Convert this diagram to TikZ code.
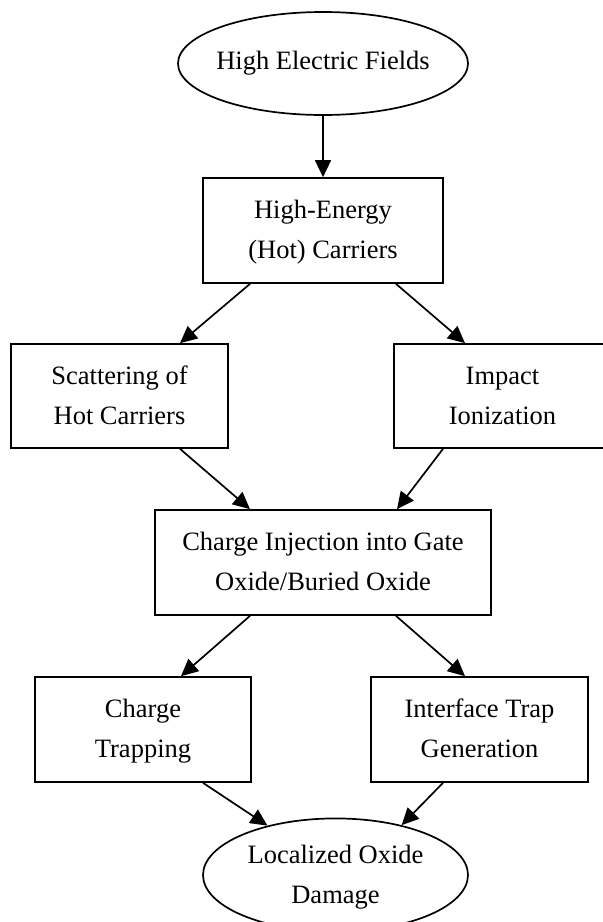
\documentclass[tikz,border=0pt]{standalone}
\usepackage{fontspec}
\setmainfont{Liberation Serif}
\usetikzlibrary{arrows.meta,shapes.geometric}
\begin{document}
\begin{tikzpicture}[x=1pt,y=-1pt,
 txt/.style={font=\fontsize{26.5}{40}\selectfont, align=center, inner sep=0pt},
 boxnode/.style={txt, draw, line width=1.7pt, minimum width=217pt, minimum height=104pt},
 ell/.style={txt, draw, ellipse, line width=1.7pt},
 arr/.style={-{Triangle[length=17pt,width=16pt]}, line width=1.7pt}]
\clip (0,0) rectangle (603,922);
\fill[white] (0,0) rectangle (603,922);
\node[ell, inner xsep=-20pt, minimum width=290pt, minimum height=103pt] (e1) at (323,63.5) {High Electric Fields};
\node[boxnode, minimum width=240pt, minimum height=105pt] (b1) at (323,230.5) {\strut High-Energy\\\strut (Hot) Carriers};
\node[boxnode] (scat) at (119.5,396) {\strut Scattering of\\\strut Hot Carriers};
\node[boxnode] (imp) at (502.5,396) {\strut Impact\\\strut Ionization};
\node[boxnode, minimum width=336pt, minimum height=105pt] (inj) at (323,562.5) {\strut Charge Injection into Gate\\\strut Oxide/Buried Oxide};
\node[boxnode, minimum width=216pt, minimum height=105pt] (trap) at (143,729.5) {\strut Charge\\\strut Trapping};
\node[boxnode, minimum height=105pt] (itg) at (479.5,729.5) {\strut Interface Trap\\\strut Generation};
\node[ell, minimum width=265pt, minimum height=104pt] (e2) at (335.5,875) {\strut Localized Oxide\\\strut Damage};
\draw[arr] (e1.south) -- (b1.north);
\draw[arr] ([xshift=-73pt]b1.south) -- ([xshift=60.5pt]scat.north);
\draw[arr] ([xshift=73pt]b1.south) -- ([xshift=-37.5pt]imp.north);
\draw[arr] ([xshift=60.5pt]scat.south) -- ([xshift=-73pt]inj.north);
\draw[arr] ([xshift=-59.5pt]imp.south) -- ([xshift=74pt]inj.north);
\draw[arr] ([xshift=-73pt]inj.south) -- ([xshift=38pt]trap.north);
\draw[arr] ([xshift=73pt]inj.south) -- ([xshift=-14.5pt]itg.north);
\draw[arr] ([xshift=60pt]trap.south) -- (e2.144);
\draw[arr] ([xshift=-36.5pt]itg.south) -- (e2.37);
\end{tikzpicture}
\end{document}
